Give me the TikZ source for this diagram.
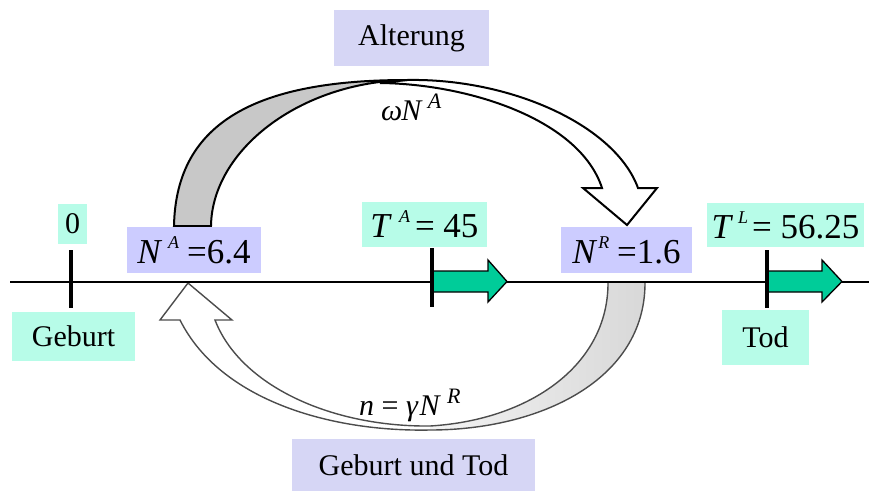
\documentclass[tikz,border=0pt]{standalone}
\usepackage{fontspec}
\setmainfont{Liberation Serif}
\definecolor{cyanbox}{RGB}{183,252,232}
\definecolor{lavA}{RGB}{204,204,255}
\definecolor{lavB}{RGB}{214,214,245}
\definecolor{arrowgreen}{RGB}{0,204,153}
\definecolor{bandA}{RGB}{200,200,200}
\definecolor{bandB}{RGB}{216,216,216}
\newcommand\supl[3]{\raisebox{#1}{\fontsize{#2}{#2}\selectfont\itshape #3}}
\begin{document}
\begin{tikzpicture}[x=1pt,y=-1pt,
  lbl/.style={inner sep=0pt, font=\fontsize{30}{31}\selectfont},
  mlbl/.style={inner sep=0pt, font=\fontsize{35}{36}\selectfont},
  cyanlbl/.style={lbl, fill=cyanbox},
  lavlbl/.style={lbl, fill=lavB},
  mcyan/.style={mlbl, fill=cyanbox},
  mlav/.style={mlbl, fill=lavA},
  flow/.style={inner sep=0pt, font=\fontsize{30}{32}\selectfont},
  tickline/.style={line width=4pt},
  axisline/.style={line width=1.8pt},
  greenarrow/.style={fill=arrowgreen, draw=black, line width=1.3pt, line join=miter},
  topband/.style={draw=black, line width=2pt, line join=miter},
  botband/.style={draw=black!70, line width=1.4pt, line join=miter}
]
\useasboundingbox (0,0) rectangle (869,491);

% bottom curved arrow (Geburt und Tod)
\fill[white] (608,283) .. controls (608,365) and (530,420) .. (430,426)
  .. controls (330,427) and (240,385) .. (215,320) -- (232,320) -- (188,283)
  -- (160,320) -- (180,320) .. controls (220,400) and (330,432) .. (430,430)
  .. controls (540,430) and (645,380) .. (645,283) -- cycle;
\shade[left color=bandB!30, right color=bandB] (608,283) -- (645,283)
  .. controls (645,380) and (540,430) .. (430,430) -- (430,426)
  .. controls (530,420) and (608,365) .. (608,283) -- cycle;
\draw[botband] (608,283) .. controls (608,365) and (530,420) .. (430,426)
  .. controls (330,427) and (240,385) .. (215,320) -- (232,320) -- (188,283)
  -- (160,320) -- (180,320) .. controls (220,400) and (330,432) .. (430,430)
  .. controls (540,430) and (645,380) .. (645,283);

% axis
\coordinate (axL) at (10,282);
\coordinate (axR) at (869,282);
\draw[axisline] (axL) -- (axR);

% top curved arrow (Alterung)
\filldraw[topband, fill=white] (407,80) .. controls (510,78) and (615,125) .. (638,188)
  -- (657,188) -- (627,225) -- (583,188) -- (602,188)
  .. controls (580,120) and (470,84) .. (380,83) -- cycle;
\filldraw[topband, fill=bandA] (174,226) .. controls (176,120) and (260,80) .. (407,80)
  .. controls (300,82) and (212,150) .. (211,226) -- cycle;

% green arrows
\filldraw[greenarrow] (433,271) -- (488,271) -- (488,260) -- (507,281.5)
  -- (488,302) -- (488,292) -- (433,292) -- cycle;
\filldraw[greenarrow] (767,271) -- (822,271) -- (822,260) -- (842,281.5)
  -- (822,302) -- (822,292) -- (767,292) -- cycle;

% ticks
\coordinate (t0a) at (71,250);  \coordinate (t0b) at (71,308);
\coordinate (tAa) at (432,248); \coordinate (tAb) at (432,307);
\coordinate (tLa) at (767,250); \coordinate (tLb) at (767,308);
\draw[tickline] (t0a) -- (t0b);
\draw[tickline] (tAa) -- (tAb);
\draw[tickline] (tLa) -- (tLb);

% boxes
\node[cyanlbl, minimum width=29pt, minimum height=40pt] (zero) at (72.5,224) {0};
\node[cyanlbl, minimum width=123pt, minimum height=49pt] (geburt) at (73.5,336.5) {Geburt};
\node[cyanlbl, minimum width=87pt, minimum height=55pt] (tod) at (765.5,337.5) {Tod};
\node[lavlbl, minimum width=155pt, minimum height=56pt] (alter) at (411.5,38) {Alterung};
\node[lavlbl, minimum width=243pt, minimum height=52pt] (gut) at (413.5,465) {Geburt und Tod};
\node[mlav, minimum width=134pt, minimum height=46pt] (NA) at (194,250)
  {\textit{N}\kern6pt\supl{15pt}{18}{A}\kern8pt=6.4};
\node[mlav, minimum width=131pt, minimum height=46pt] (NR) at (626.5,250)
  {\textit{N}\kern1pt\supl{15pt}{18}{R}\kern8pt=1.6};
\node[mcyan, minimum width=125pt, minimum height=45pt] (TA) at (424.5,224.5)
  {\textit{T}\kern7pt\supl{15pt}{18}{A}\kern5pt= 45};
\node[mcyan, minimum width=157pt, minimum height=44pt] (TL) at (785.5,225)
  {\textit{T}\kern5pt\supl{15pt}{18}{L}\kern4pt= 56.25};

% flow labels
\node[flow, anchor=base west] (omega) at (381,120)
  {\textit{ω}\kern-1pt\textit{N}\kern5pt\supl{12pt}{22}{A}};
\node[flow, anchor=base west] (gamma) at (359,415)
  {\textit{n} = \textit{γ}\kern1pt\textit{N}\kern6pt\supl{12pt}{22}{R}};
\end{tikzpicture}
\end{document}
